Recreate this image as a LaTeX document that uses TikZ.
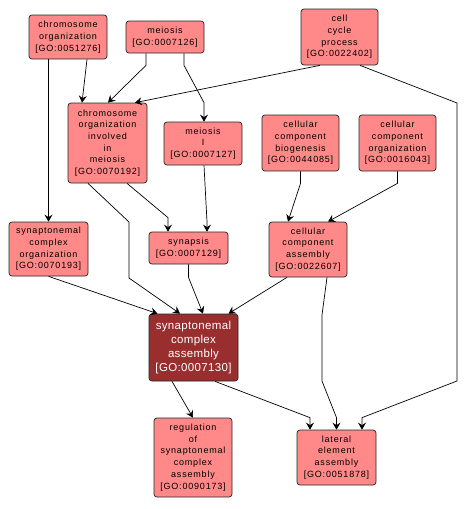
\documentclass[tikz,border=0pt]{standalone}
\usepackage{fontspec}
\setmainfont{Liberation Sans}
\newfontfamily\smallf[LetterSpace=9]{Liberation Sans}
\newfontfamily\bigf[LetterSpace=3]{Liberation Sans}
\usetikzlibrary{arrows.meta,calc}
\definecolor{gofill}{RGB}{255,136,136}
\definecolor{godark}{RGB}{153,46,46}
\newcommand{\goid}[1]{{}[GO:#1]}
\begin{document}
\begin{tikzpicture}[x=1pt,y=-1pt,
  term/.style={draw=black!85,line width=0.7pt,rounded corners=3pt,fill=gofill,
    align=center,inner sep=0pt,font=\smallf\fontsize{9}{11.7}\selectfont},
  mainterm/.style={term,fill=godark,text=white,font=\bigf\fontsize{11.5}{13.7}\selectfont},
  arr/.style={draw=black,line width=0.7pt,-{Stealth[length=7pt,width=8pt,inset=2.5pt]}}]
\useasboundingbox[fill=white] (0,0) rectangle (466,509);
\node[term,minimum width=78pt,minimum height=44pt] (co) at (68,37) {chromosome\\organization\\\goid{0051276}};
\node[term,minimum width=78pt,minimum height=32pt] (mei) at (165,37) {meiosis\\\goid{0007126}};
\node[term,minimum width=77pt,minimum height=56pt] (ccp) at (339.5,37) {cell\\cycle\\process\\\goid{0022402}};
\node[term,minimum width=79pt,minimum height=80pt] (coim) at (107.5,143) {chromosome\\organization\\involved\\in\\meiosis\\\goid{0070192}};
\node[term,minimum width=78pt,minimum height=43pt] (meiI) at (203,143.5) {meiosis\\I\\\goid{0007127}};
\node[term,minimum width=77pt,minimum height=56pt] (ccb) at (300.5,143) {cellular\\component\\biogenesis\\\goid{0044085}};
\node[term,minimum width=77pt,minimum height=56pt] (cco) at (397.5,143) {cellular\\component\\organization\\\goid{0016043}};
\node[term,minimum width=79pt,minimum height=54pt] (sco) at (48.5,249) {synaptonemal\\complex\\organization\\\goid{0070193}};
\node[term,minimum width=79pt,minimum height=32pt] (syn) at (188.5,248) {synapsis\\\goid{0007129}};
\node[term,minimum width=78pt,minimum height=55pt] (cca) at (308,249.5) {cellular\\component\\assembly\\\goid{0022607}};
\node[mainterm,minimum width=89pt,minimum height=67pt] (sca) at (193.5,347.5) {synaptonemal\\complex\\assembly\\\goid{0007130}};
\node[term,minimum width=78pt,minimum height=79pt] (reg) at (193,457.5) {regulation\\of\\synaptonemal\\complex\\assembly\\\goid{0090173}};
\node[term,minimum width=79pt,minimum height=55pt] (lea) at (336.5,457.5) {lateral\\element\\assembly\\\goid{0051878}};
% connectors
\draw[arr] (co.south -| sco.north) -- (sco.north);
\draw[arr] ([xshift=19pt]co.south) -- ([xshift=-25.5pt]coim.north);
\draw[arr] ([xshift=-19pt]mei.south) -- ++(0,12) -- ([xshift=0.5pt]coim.north);
\draw[arr] ([xshift=19pt]mei.south) -- ++(0,12) -- ([yshift=19pt,xshift=1pt]meiI.north) -- ([xshift=1pt]meiI.north);
\draw[arr] ([xshift=-19.5pt]ccp.south) -- ([xshift=27.5pt]coim.north);
\draw[arr] ([xshift=20.5pt]ccp.south) -- (457,103) -- (457,381) -- ([xshift=25.5pt,yshift=12pt]lea.north) -- ([xshift=25.5pt]lea.north);
\draw[arr] ([xshift=19.5pt]coim.south) -- ([xshift=-20.5pt,yshift=14pt]syn.north) -- ([xshift=-20.5pt]syn.north);
\draw[arr] ([xshift=-19.5pt]coim.south) -- (129,222) -- (129,278) -- ([xshift=-13.5pt]sca.north);
\draw[arr] ([xshift=1pt]meiI.south) -- ([xshift=18.5pt,yshift=10pt]syn.north) -- ([xshift=18.5pt]syn.north);
\draw[arr] (sco.south) -- ([xshift=-36pt]sca.north);
\draw[arr] (syn.south) -- ++(0,13) -- ([xshift=9.5pt]sca.north);
\draw[arr] ([xshift=-21pt]cca.south) -- ([xshift=35pt]sca.north);
\draw[arr] (ccb.south) -- ++(0,12) -- ([xshift=-20pt]cca.north);
\draw[arr] (cco.south) -- ++(0,12) -- ([xshift=20pt]cca.north);
\draw[arr] ([xshift=19pt]cca.south) -- (322,315) -- (322,381) -- ([yshift=12pt]lea.north) -- (lea.north);
\draw[arr] ([xshift=-21.5pt]sca.south) -- (reg.north);
\draw[arr] ([xshift=21.5pt]sca.south) -- ([xshift=-26.5pt,yshift=12pt]lea.north) -- ([xshift=-26.5pt]lea.north);
\end{tikzpicture}
\end{document}
